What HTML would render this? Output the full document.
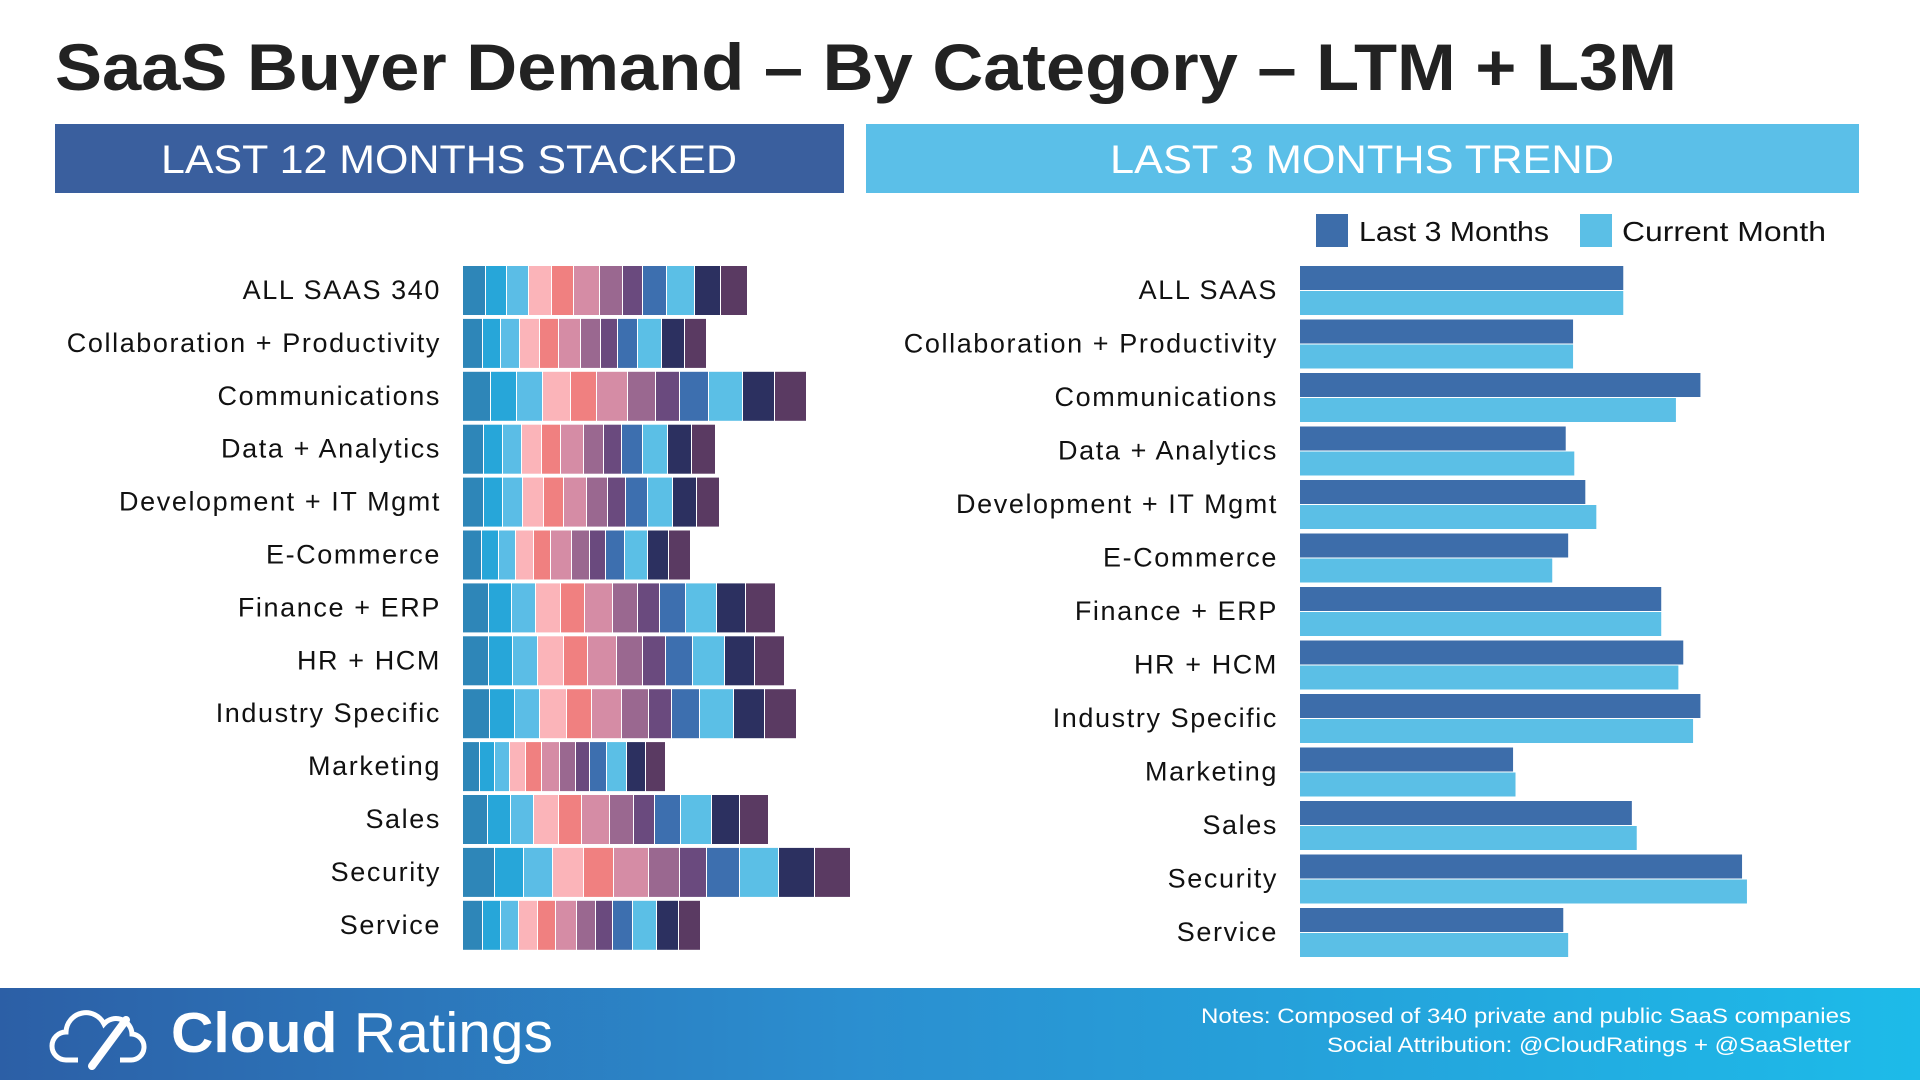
<!DOCTYPE html>
<html><head><meta charset="utf-8"><style>
html,body{margin:0;padding:0;background:#fff;width:1920px;height:1080px;overflow:hidden}
svg{display:block}
text{font-family:"Liberation Sans",sans-serif}
</style></head><body>
<svg id="chart" width="1920" height="1080" viewBox="0 0 1920 1080" xmlns="http://www.w3.org/2000/svg">
<defs>
<linearGradient id="fg" x1="0" x2="1" y1="0" y2="0"><stop offset="0" stop-color="#2c5fa6"/><stop offset="0.45" stop-color="#2b8fd0"/><stop offset="1" stop-color="#1dbbe9"/></linearGradient>
</defs>
<text x="55" y="90" font-size="66" font-weight="bold" fill="#222" textLength="1622" lengthAdjust="spacingAndGlyphs">SaaS Buyer Demand – By Category – LTM + L3M</text>
<rect x="55" y="124" width="789" height="69" fill="#3a5f9e"/>
<text x="449" y="173" font-size="40" fill="#fff" text-anchor="middle" textLength="576" lengthAdjust="spacingAndGlyphs">LAST 12 MONTHS STACKED</text>
<rect x="866" y="124" width="993" height="69" fill="#5bbfe8"/>
<text x="1362" y="173" font-size="40" fill="#fff" text-anchor="middle" textLength="504" lengthAdjust="spacingAndGlyphs">LAST 3 MONTHS TREND</text>
<g>
<rect x="1316" y="214" width="32" height="33" fill="#3d6daa"/>
<text x="1359" y="241" font-size="28" fill="#111" textLength="190" lengthAdjust="spacingAndGlyphs">Last 3 Months</text>
<rect x="1580" y="214" width="32" height="33" fill="#5bbfe6"/>
<text x="1622" y="241" font-size="28" fill="#111" textLength="204" lengthAdjust="spacingAndGlyphs">Current Month</text>
</g>
<g id="left"></g>
<g id="right"></g>
<g>
<rect x="0" y="988" width="1920" height="92" fill="url(#fg)"/>
<g fill="none" stroke="#fff" stroke-width="5">
<path d="M78 1060 h-12 a14 14 0 0 1 0-28 a20 20 0 0 1 38-8 a16 16 0 0 1 28 10 a13 13 0 0 1 -2 26 h-10"/>
<path d="M92 1066 L126 1020" stroke-width="8" stroke-linecap="round"/>
</g>
<text x="171" y="1052" font-size="57" fill="#fff" textLength="382" lengthAdjust="spacingAndGlyphs"><tspan font-weight="bold">Cloud</tspan> Ratings</text>
<text x="1851" y="1023" font-size="21" fill="#fff" text-anchor="end" textLength="650" lengthAdjust="spacingAndGlyphs">Notes: Composed of 340 private and public SaaS companies</text>
<text x="1851" y="1052" font-size="21" fill="#fff" text-anchor="end" textLength="524" lengthAdjust="spacingAndGlyphs">Social Attribution: @CloudRatings + @SaaSletter</text>
</g>
</svg>
<script>
const categories = ["ALL SAAS 340","Collaboration + Productivity","Communications","Data + Analytics","Development + IT Mgmt","E-Commerce","Finance + ERP","HR + HCM","Industry Specific","Marketing","Sales","Security","Service"];
const trendCategories = ["ALL SAAS","Collaboration + Productivity","Communications","Data + Analytics","Development + IT Mgmt","E-Commerce","Finance + ERP","HR + HCM","Industry Specific","Marketing","Sales","Security","Service"];
const stackedRow0 = [23,21,22,23,22,26,23,20,24,28,26,27];
const stackedRow1 = [20,18,19,20,19,22,20,17,20,24,23,22];
const stackedRow2 = [28,26,26,28,26,31,28,24,29,34,32,32];
const stackedRow3 = [21,19,19,20,19,23,20,18,21,25,24,24];
const stackedRow4 = [21,19,20,21,20,23,21,18,22,25,24,23];
const stackedRow5 = [19,17,17,18,17,21,18,16,19,23,21,22];
const stackedRow6 = [26,23,24,25,24,28,25,22,26,31,29,30];
const stackedRow7 = [26,24,25,26,24,29,26,23,27,32,30,30];
const stackedRow8 = [27,25,25,27,25,30,27,23,28,34,31,32];
const stackedRow9 = [17,15,15,16,16,18,16,14,17,20,19,20];
const stackedRow10 = [25,23,23,25,23,28,24,21,26,31,28,29];
const stackedRow11 = [32,29,29,31,30,35,31,27,33,39,36,36];
const stackedRow12 = [20,18,18,19,18,21,19,17,20,24,22,22];
const stackedRows = [stackedRow0,stackedRow1,stackedRow2,stackedRow3,stackedRow4,stackedRow5,stackedRow6,stackedRow7,stackedRow8,stackedRow9,stackedRow10,stackedRow11,stackedRow12];
const last3Months = [264,223,327,217,233,219,295,313,327,174,271,361,215];
const currentMonth = [264,223,307,224,242,206,295,309,321,176,275,365,219];

const segColors = ["#2e86b8","#27a6d9","#5bbde6","#fbb4b9","#f08080","#d58ca5","#9a6890","#6a4a7e","#3d6faf","#5bbfe6","#2c3060","#5a3a62"];
const NS = "http://www.w3.org/2000/svg";
function mk(tag, attrs, parent){const e=document.createElementNS(NS,tag);for(const k in attrs)e.setAttribute(k,attrs[k]);parent.appendChild(e);return e;}

const lx = v => 463 + v;
const ly = i => 266 + i * 52.9;
const left = document.getElementById('left');
categories.forEach((c,i)=>{
  const t = mk('text',{x:441,y:ly(i)+33,'font-size':27,fill:'#111','text-anchor':'end','letter-spacing':'1.6'},left);
  t.textContent = c;
  
  
  let acc = 0;
  stackedRows[i].forEach((v,j)=>{
    const r = mk('rect',{x:lx(acc),y:ly(i),width:Math.max(0,lx(acc+v)-lx(acc)-1),height:49,fill:segColors[j]},left);
    
    
    acc += v;
  });
});

const rx = v => 1300 + v * 1.2245;
const ry = i => 266 + i * 53.5;
const right = document.getElementById('right');
trendCategories.forEach((c,i)=>{
  const t = mk('text',{x:1278,y:ry(i)+33,'font-size':27,fill:'#111','text-anchor':'end','letter-spacing':'1.6'},right);
  t.textContent = c;
  
  
  const a = mk('rect',{x:rx(0),y:ry(i),width:rx(last3Months[i])-rx(0),height:24,fill:'#3d6daa'},right);
  
  
  const b = mk('rect',{x:rx(0),y:ry(i)+25,width:rx(currentMonth[i])-rx(0),height:24,fill:'#5bbfe6'},right);
  
  
});
</script>
</body></html>
